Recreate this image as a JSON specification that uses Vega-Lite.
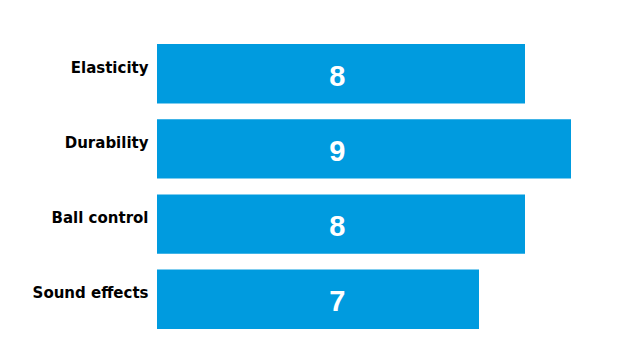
{
  "$schema": "https://vega.github.io/schema/vega-lite/v6.json",
  "width": 414,
  "height": 285,
  "autosize": {"type": "none"},
  "padding": {"left": 157, "top": 44, "right": 48, "bottom": 31},
  "background": "white",
  "config": {"view": {"stroke": null}},
  "data": {
    "values": [
      {"attribute": "Elasticity", "score": 8},
      {"attribute": "Durability", "score": 9},
      {"attribute": "Ball control", "score": 8},
      {"attribute": "Sound effects", "score": 7}
    ]
  },
  "encoding": {
    "y": {
      "field": "attribute",
      "type": "nominal",
      "sort": null,
      "scale": {"paddingInner": 0.21, "paddingOuter": 0},
      "axis": {
        "title": null,
        "domain": false,
        "ticks": false,
        "labelPadding": 9,
        "labelFont": "DejaVu Sans",
        "labelFontWeight": "bold",
        "labelFontSize": 15,
        "labelColor": "#000000",
        "labelOffset": -6
      }
    }
  },
  "layer": [
    {
      "mark": {"type": "bar", "color": "#009BDF"},
      "encoding": {
        "x": {
          "field": "score",
          "type": "quantitative",
          "scale": {"domain": [0, 9], "nice": false},
          "axis": null
        }
      }
    },
    {
      "mark": {
        "type": "text",
        "color": "white",
        "font": "Liberation Sans",
        "fontWeight": "bold",
        "fontSize": 29,
        "baseline": "middle",
        "align": "center",
        "dy": 3
      },
      "encoding": {
        "x": {"datum": 3.92, "type": "quantitative"},
        "text": {"field": "score", "type": "quantitative"}
      }
    }
  ]
}
